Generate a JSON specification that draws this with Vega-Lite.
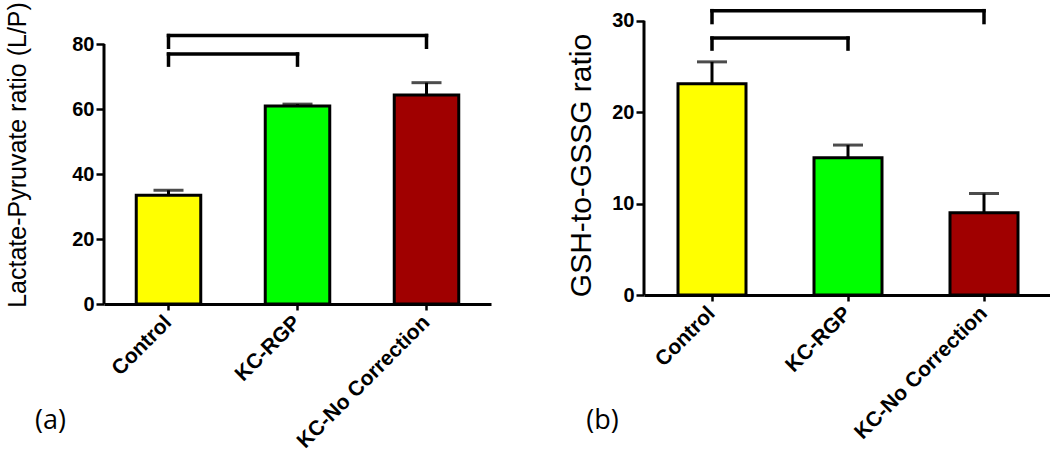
{
  "$schema": "https://vega.github.io/schema/vega-lite/v6.json",
  "background": "white",
  "padding": {"left": 5, "top": 1, "right": 0, "bottom": 0},
  "config": {
    "font": "Liberation Sans",
    "view": {"stroke": null},
    "axis": {"grid": false, "domainColor": "black", "tickColor": "black", "labelColor": "black", "titleColor": "black", "labelFont": "Liberation Sans", "titleFont": "Liberation Sans"},
    "concat": {"spacing": 75}
  },
  "datasets": {
    "lp": [
      {"group": "Control", "value": 33.5, "upper": 35.0, "color": "Control"},
      {"group": "KC-RGP", "value": 60.9, "upper": 61.5, "color": "KC-RGP"},
      {"group": "KC-No Correction", "value": 64.3, "upper": 68.1, "color": "KC-No Correction"}
    ],
    "lpBr": [
      {"from": "Control", "to": "KC-No Correction", "y": 82.6},
      {"from": "Control", "to": "KC-RGP", "y": 76.9}
    ],
    "lpLegs": [
      {"at": "Control", "y": 82.6, "y2": 79.0},
      {"at": "KC-No Correction", "y": 82.6, "y2": 79.0},
      {"at": "Control", "y": 76.9, "y2": 73.5},
      {"at": "KC-RGP", "y": 76.9, "y2": 73.5}
    ],
    "lpAxis": [{"lo": 0, "hi": 80}],
    "gs": [
      {"group": "Control", "value": 23.1, "upper": 25.5, "color": "Control"},
      {"group": "KC-RGP", "value": 15.0, "upper": 16.4, "color": "KC-RGP"},
      {"group": "KC-No Correction", "value": 9.0, "upper": 11.1, "color": "KC-No Correction"}
    ],
    "gsBr": [
      {"from": "Control", "to": "KC-No Correction", "y": 31.1},
      {"from": "Control", "to": "KC-RGP", "y": 28.1}
    ],
    "gsLegs": [
      {"at": "Control", "y": 31.1, "y2": 29.8},
      {"at": "KC-No Correction", "y": 31.1, "y2": 29.8},
      {"at": "Control", "y": 28.1, "y2": 26.9},
      {"at": "KC-RGP", "y": 28.1, "y2": 26.9}
    ],
    "gsAxis": [{"lo": 0, "hi": 30}]
  },
  "hconcat": [
    {
      "width": 387,
      "height": 299,
      "encoding": {
        "x": {"field": "group", "type": "nominal", "sort": ["Control", "KC-RGP", "KC-No Correction"],
          "scale": {"domain": ["Control", "KC-RGP", "KC-No Correction"], "paddingInner": 0.5, "paddingOuter": 0.25},
          "axis": {"title": "(a)", "titleFontSize": 27, "titleFontWeight": "normal", "titleFont": "Open Sans", "titleX": -54, "titleY": 116, "titleAlign": "center", "titleBaseline": "middle",
            "labelAngle": -45, "labelFontSize": 21, "labelFontWeight": "bold", "labelAlign": "right", "labelBaseline": "middle", "labelPadding": 9,
            "domainWidth": 3, "tickWidth": 2.5, "tickSize": 6}}
      },
      "layer": [
        {
          "data": {"name": "lp"},
          "mark": {"type": "bar", "stroke": "black", "strokeWidth": 3},
          "encoding": {
            "y": {"field": "value", "type": "quantitative", "scale": {"domain": [0, 92], "nice": false},
              "axis": {"title": "Lactate-Pyruvate ratio (L/P)", "titleFontSize": 25, "titleFontWeight": "normal", "titlePadding": 41,
                "values": [0, 20, 40, 60, 80], "labelFontSize": 20, "labelFontWeight": "bold", "labelPadding": 2, "tickSize": 8, "tickWidth": 2.5, "domain": false}},
            "color": {"field": "color", "type": "nominal", "legend": null,
              "scale": {"domain": ["Control", "KC-RGP", "KC-No Correction"], "range": ["#FFFF00", "#00FF00", "#A00000"]}}
          }
        },
        {
          "data": {"name": "lp"},
          "mark": {"type": "rule", "stroke": "black", "strokeWidth": 3},
          "encoding": {"y": {"field": "value", "type": "quantitative"}, "y2": {"field": "upper"}}
        },
        {
          "data": {"name": "lp"},
          "mark": {"type": "tick", "color": "black", "orient": "horizontal", "size": 30, "thickness": 3},
          "encoding": {"y": {"field": "upper", "type": "quantitative"}}
        },
        {
          "data": {"name": "lpBr"},
          "mark": {"type": "rule", "stroke": "black", "strokeWidth": 3.5, "strokeCap": "square"},
          "encoding": {"x": {"field": "from", "type": "nominal"}, "x2": {"field": "to"}, "y": {"field": "y", "type": "quantitative"}}
        },
        {
          "data": {"name": "lpLegs"},
          "mark": {"type": "rule", "stroke": "black", "strokeWidth": 3.5, "strokeCap": "square"},
          "encoding": {"x": {"field": "at", "type": "nominal"}, "y": {"field": "y", "type": "quantitative"}, "y2": {"field": "y2"}}
        },
        {
          "data": {"name": "lpAxis"},
          "mark": {"type": "rule", "stroke": "black", "strokeWidth": 3},
          "encoding": {"x": {"value": 0}, "y": {"field": "lo", "type": "quantitative"}, "y2": {"field": "hi"}}
        }
      ]
    },
    {
      "width": 408,
      "height": 290,
      "encoding": {
        "x": {"field": "group", "type": "nominal", "sort": ["Control", "KC-RGP", "KC-No Correction"],
          "scale": {"domain": ["Control", "KC-RGP", "KC-No Correction"], "paddingInner": 0.5, "paddingOuter": 0.25},
          "axis": {"title": "(b)", "titleFontSize": 27, "titleFontWeight": "normal", "titleFont": "Open Sans", "titleX": -42, "titleY": 125, "titleAlign": "center", "titleBaseline": "middle",
            "labelAngle": -45, "labelFontSize": 21, "labelFontWeight": "bold", "labelAlign": "right", "labelBaseline": "middle", "labelPadding": 9,
            "domainWidth": 3, "tickWidth": 2.5, "tickSize": 6}}
      },
      "layer": [
        {
          "data": {"name": "gs"},
          "mark": {"type": "bar", "stroke": "black", "strokeWidth": 3},
          "encoding": {
            "y": {"field": "value", "type": "quantitative", "scale": {"domain": [0, 31.72], "nice": false},
              "axis": {"title": "GSH-to-GSSG ratio", "titleFontSize": 30, "titleFontWeight": "normal", "titlePadding": 15, "titleY": 160,
                "values": [0, 10, 20, 30], "labelFontSize": 20, "labelFontWeight": "bold", "labelPadding": 2, "tickSize": 8, "tickWidth": 2.5, "domain": false}},
            "color": {"field": "color", "type": "nominal", "legend": null,
              "scale": {"domain": ["Control", "KC-RGP", "KC-No Correction"], "range": ["#FFFF00", "#00FF00", "#A00000"]}}
          }
        },
        {
          "data": {"name": "gs"},
          "mark": {"type": "rule", "stroke": "black", "strokeWidth": 3},
          "encoding": {"y": {"field": "value", "type": "quantitative"}, "y2": {"field": "upper"}}
        },
        {
          "data": {"name": "gs"},
          "mark": {"type": "tick", "color": "black", "orient": "horizontal", "size": 30, "thickness": 3},
          "encoding": {"y": {"field": "upper", "type": "quantitative"}}
        },
        {
          "data": {"name": "gsBr"},
          "mark": {"type": "rule", "stroke": "black", "strokeWidth": 3.5, "strokeCap": "square"},
          "encoding": {"x": {"field": "from", "type": "nominal"}, "x2": {"field": "to"}, "y": {"field": "y", "type": "quantitative"}}
        },
        {
          "data": {"name": "gsLegs"},
          "mark": {"type": "rule", "stroke": "black", "strokeWidth": 3.5, "strokeCap": "square"},
          "encoding": {"x": {"field": "at", "type": "nominal"}, "y": {"field": "y", "type": "quantitative"}, "y2": {"field": "y2"}}
        },
        {
          "data": {"name": "gsAxis"},
          "mark": {"type": "rule", "stroke": "black", "strokeWidth": 3},
          "encoding": {"x": {"value": 0}, "y": {"field": "lo", "type": "quantitative"}, "y2": {"field": "hi"}}
        }
      ]
    }
  ]
}
